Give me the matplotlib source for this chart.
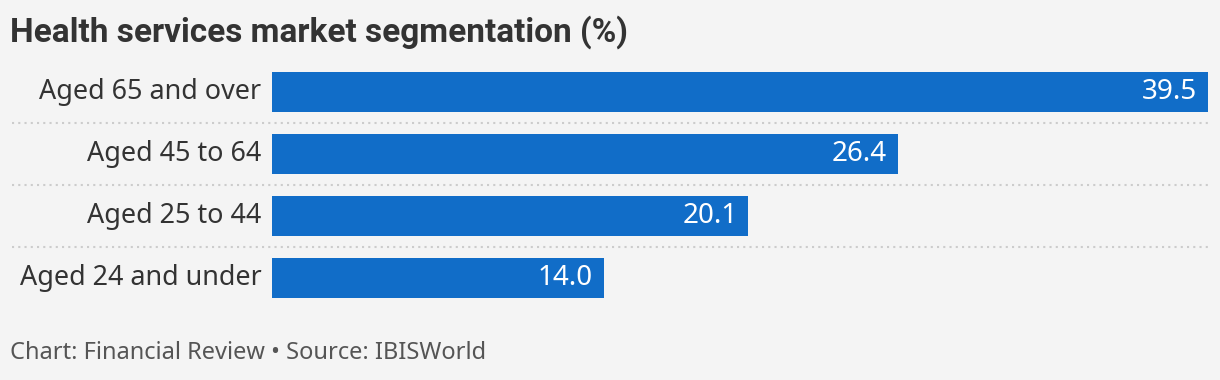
import matplotlib.pyplot as plt

categories = ['Aged 65 and over', 'Aged 45 to 64', 'Aged 25 to 44', 'Aged 24 and under']
values = [39.5, 26.4, 20.1, 14.0]

bg = '#f4f4f4'
bar_col = '#116dc8'
txt_col = '#333333'

plt.rcParams['font.family'] = ['Noto Sans', 'DejaVu Sans']

W, H = 1220, 380
fig = plt.figure(figsize=(W / 100, H / 100), dpi=100, facecolor=bg)

# axes placement in pixels
x0, x1 = 272, 1208
y_top, y_bot = 61, 309
ax = fig.add_axes([x0 / W, 1 - y_bot / H, (x1 - x0) / W, (y_bot - y_top) / H])
ax.set_facecolor(bg)

ypos = list(range(len(categories)))
ax.barh(ypos, values, height=40 / 62, color=bar_col)
ax.set_xlim(0, max(values))
ax.set_ylim(len(categories) - 0.5, -0.5)

for y, v, c in zip(ypos, values, categories):
    ax.text(v - 0.45, y, f'{v:.1f}', color='white', ha='right', va='center', fontsize=20)
    ax.text(-0.45, y, c, color=txt_col, ha='right', va='center', fontsize=19.4)

for y in ypos[:-1]:
    ax.axhline(y + 0.5, xmin=(12 - x0) / (x1 - x0), xmax=1, color='#cccccc',
               lw=1.5, ls=(0, (1, 2)), clip_on=False)

ax.set_xticks([])
ax.set_yticks([])
for s in ax.spines.values():
    s.set_visible(False)

fig.text(10 / W, 1 - 32 / H, 'Health services market segmentation (%)', fontsize=24,
         fontweight='bold', family=['Roboto', 'DejaVu Sans'], color=txt_col,
         ha='left', va='center')
fig.text(10 / W, 1 - 353 / H, 'Chart: Financial Review \u2022 Source: IBISWorld', fontsize=17,
         color='#555555', ha='left', va='center')

fig.savefig('out.png', dpi=100, facecolor=bg)
